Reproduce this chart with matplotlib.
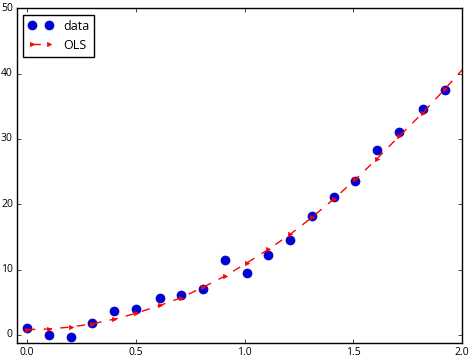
import matplotlib
matplotlib.use("Agg")
import matplotlib.pyplot as plt

plt.style.use("classic")
plt.rcParams["font.family"] = ["Open Sans", "DejaVu Sans"]

x_data = [0.0, 0.10, 0.20, 0.30, 0.40, 0.50, 0.61, 0.71, 0.81, 0.91,
          1.01, 1.11, 1.21, 1.31, 1.41, 1.51, 1.61, 1.71, 1.82, 1.92]
y_data = [1.0, 0.0, -0.35, 1.8, 3.6, 3.9, 5.6, 6.1, 7.0, 11.45,
          9.4, 12.2, 14.5, 18.2, 21.1, 23.5, 28.3, 31.0, 34.6, 37.5]

x_fit = x_data + [2.02]
y_fit = [0.8, 0.9, 1.2, 1.7, 2.4, 3.3, 4.5, 5.7, 7.3, 9.0,
         11.0, 13.1, 15.4, 18.0, 20.8, 23.8, 27.0, 30.4, 34.0, 37.6, 41.3]

x_ticks = [0.0, 0.5, 1.0, 1.5, 2.0]
y_ticks = [0, 10, 20, 30, 40, 50]

fig = plt.figure(figsize=(4.72, 3.6), dpi=100)
ax = fig.add_axes([0.036, 0.048, 0.943, 0.929])
ax.plot(x_data, y_data, "o", color="#0000dd", markeredgecolor="#0000aa",
        markersize=6.5, label="data")
ax.plot(x_fit, y_fit, "r-->", markersize=3, markeredgecolor="r",
        linewidth=1, label="OLS")
ax.set_xlim(-0.046, 2.0)
ax.set_ylim(-1.2, 50)
ax.set_xticks(x_ticks)
ax.set_yticks(y_ticks)
ax.tick_params(labelsize=7.5, length=3, pad=3)
leg = ax.legend(loc="upper left", fontsize=9, numpoints=2)
fig.savefig("out.png", dpi=100)
